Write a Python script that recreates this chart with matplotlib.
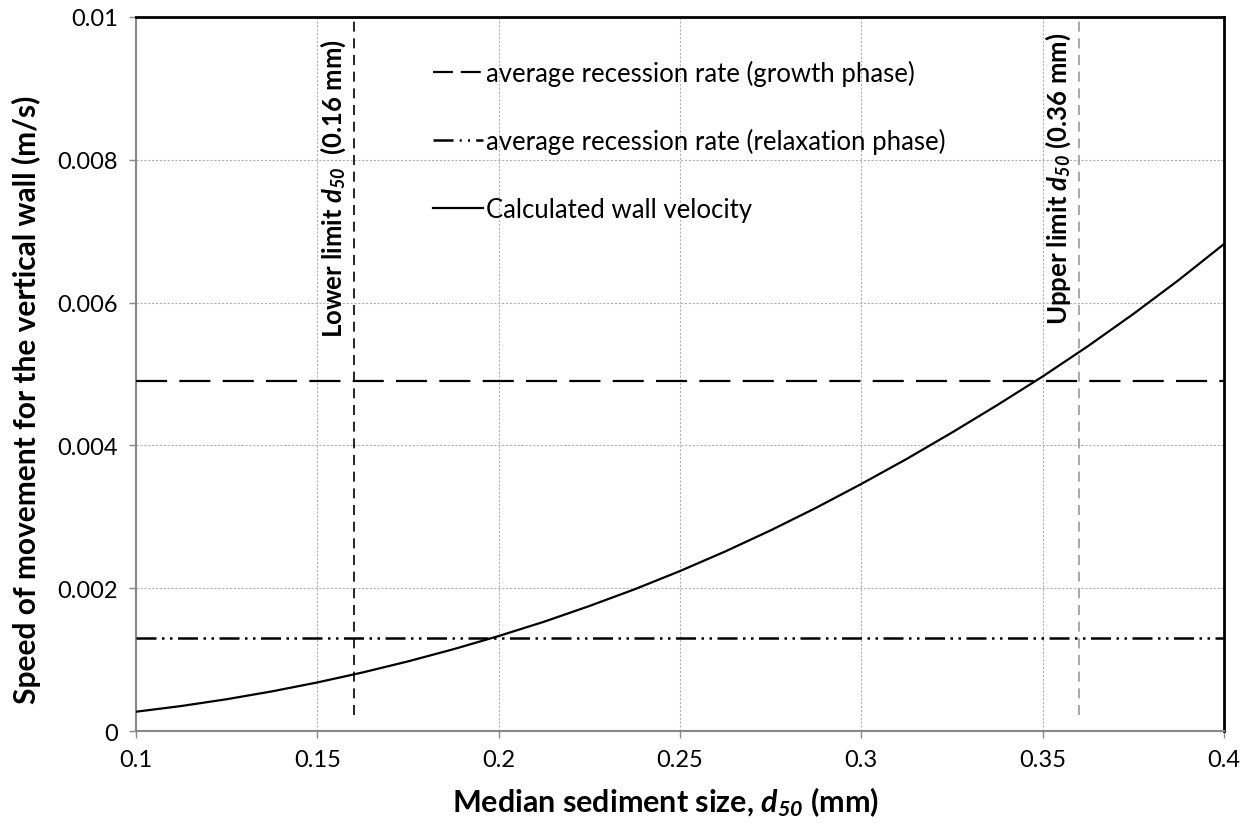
import matplotlib
matplotlib.use("Agg")
import matplotlib.pyplot as plt
from matplotlib.lines import Line2D

# wall velocity against median grain size
d50 = [0.1000, 0.1125, 0.1250, 0.1375, 0.1500, 0.1625, 0.1750, 0.1875,
       0.2000, 0.2125, 0.2250, 0.2375, 0.2500, 0.2625, 0.2750, 0.2875,
       0.3000, 0.3125, 0.3250, 0.3375, 0.3500, 0.3625, 0.3750, 0.3875,
       0.4000]
wall_velocity = [0.000270, 0.000350, 0.000445, 0.000555, 0.000680,
                 0.000820, 0.000975, 0.001145, 0.001330, 0.001530,
                 0.001750, 0.001985, 0.002240, 0.002515, 0.002810,
                 0.003125, 0.003460, 0.003810, 0.004180, 0.004565,
                 0.004965, 0.005390, 0.005840, 0.006315, 0.006820]

growth_rate = 0.0049
relaxation_rate = 0.0013
lower_d50 = 0.16
upper_d50 = 0.36
limit_bottom = 0.00022

FONT = "Lato"
plt.rcParams.update({
    "font.family": FONT,
    "mathtext.fontset": "custom",
    "mathtext.rm": FONT,
    "mathtext.it": f"{FONT}:italic",
    "mathtext.bf": f"{FONT}:bold",
    "mathtext.bfit": f"{FONT}:bold:italic",
})

fig = plt.figure(figsize=(12.52, 8.29), dpi=100)
ax = fig.add_axes([0.1086, 0.117, 0.869, 0.8613])

ax.grid(True, color="#b0b0b0", linestyle=(0, (2, 1.5)), linewidth=0.8)
ax.set_axisbelow(True)

ax.plot(d50, wall_velocity, color="black", lw=1.6, zorder=4)
ax.axhline(growth_rate, color="black", lw=1.6, dashes=(14, 5.5), zorder=3)
ax.axhline(relaxation_rate, color="black", lw=1.8,
           dashes=(8, 2.2, 1, 2.2, 1, 2.2), zorder=3)

ax.plot([lower_d50, lower_d50], [limit_bottom, 0.01], color="black",
        lw=1.2, dashes=(6, 4), zorder=3)
ax.plot([upper_d50, upper_d50], [limit_bottom, 0.01], color="#9a9a9a",
        lw=1.2, dashes=(6, 4), zorder=3)

ax.text(0.1543, 0.00970, r"Lower limit $\mathbfit{d}_{\mathbfit{50}}$  (0.16 mm)",
        rotation=90, ha="center", va="top", fontsize=18.5, fontweight="bold")
ax.text(0.3542, 0.00980, r"Upper limit $\mathbfit{d}_{\mathbfit{50}}$ (0.36 mm)",
        rotation=90, ha="center", va="top", fontsize=18.5, fontweight="bold")

# shorter dash patterns so each key sample shows the full motif
key = [
    (Line2D([], [], color="black", lw=1.6, dashes=(9, 3.5)),
     "average recession rate (growth phase)"),
    (Line2D([], [], color="black", lw=1.8, dashes=(8, 2.5, 0.8, 2.5, 0.8, 2.5)),
     "average recession rate (relaxation phase)"),
    (Line2D([], [], color="black", lw=1.6), "Calculated wall velocity"),
]
ax.legend([h for h, _ in key], [t for _, t in key],
          loc="upper left", bbox_to_anchor=(0.273, 0.94), frameon=False,
          borderaxespad=0, borderpad=0,
          fontsize=18.5, handlelength=1.95, handletextpad=0.1,
          labelspacing=1.65)

ax.set_xlim(0.1, 0.4)
ax.set_ylim(0, 0.01)
ax.set_xticks([0.1, 0.15, 0.2, 0.25, 0.3, 0.35, 0.4])
ax.set_xticklabels(["0.1", "0.15", "0.2", "0.25", "0.3", "0.35", "0.4"])
ax.set_yticks([0, 0.002, 0.004, 0.006, 0.008, 0.01])
ax.set_yticklabels(["0", "0.002", "0.004", "0.006", "0.008", "0.01"])
ax.tick_params(labelsize=17, color="#888888", length=5, width=1,
               direction="out", pad=8)

for side in ("left", "bottom"):
    ax.spines[side].set_color("#888888")
    ax.spines[side].set_linewidth(1.5)
for side in ("top", "right"):
    ax.spines[side].set_color("black")
    ax.spines[side].set_linewidth(2)

ax.set_xlabel(r"Median sediment size, $\mathbfit{d}_{\mathbfit{50}}$ (mm)",
              fontsize=22, fontweight="bold", labelpad=10)
ax.xaxis.set_label_coords(0.487, -0.075)
ax.set_ylabel("Speed of movement for the vertical wall (m/s)",
              fontsize=21.5, fontweight="bold", labelpad=10)
ax.yaxis.set_label_coords(-0.087, 0.465)

fig.savefig("out.png", dpi=100)
